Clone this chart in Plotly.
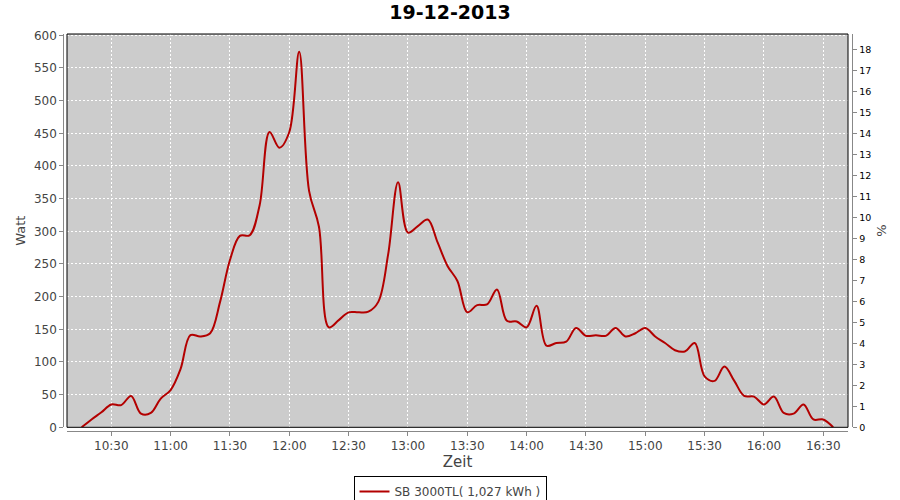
import plotly.graph_objects as go

DAY = "2013-12-19"
times = ["10:15", "10:20", "10:25", "10:30", "10:35", "10:40", "10:45", "10:50", "10:55",
         "11:00", "11:05", "11:10", "11:15", "11:20", "11:25", "11:30", "11:35", "11:40",
         "11:45", "11:50", "11:55", "12:00", "12:05", "12:10", "12:15", "12:20", "12:25",
         "12:30", "12:35", "12:40", "12:45", "12:50", "12:55", "13:00", "13:05", "13:10",
         "13:15", "13:20", "13:25", "13:30", "13:35", "13:40", "13:45", "13:50", "13:55",
         "14:00", "14:05", "14:10", "14:15", "14:20", "14:25", "14:30", "14:35", "14:40",
         "14:45", "14:50", "14:55", "15:00", "15:05", "15:10", "15:15", "15:20", "15:25",
         "15:30", "15:35", "15:40", "15:45", "15:50", "15:55", "16:00", "16:05", "16:10",
         "16:15", "16:20", "16:25", "16:30", "16:35"]
watt = [0, 12, 23, 35, 34, 48, 21, 22, 44,
        57, 89, 141, 139, 144, 192, 256, 293, 294,
        340, 452, 428, 452, 575, 362, 307, 153, 164,
        176, 176, 177, 192, 265, 375, 298, 308, 318,
        283, 247, 224, 176, 187, 188, 211, 163, 162,
        153, 186, 125, 129, 131, 152, 140, 141, 140,
        152, 139, 144, 152, 139, 129, 118, 116, 129,
        78, 71, 93, 71, 48, 47, 35, 47, 22,
        21, 35, 12, 12, 0]
series_name = "SB 3000TL( 1,027 kWh )"
title_text = "19-12-2013"

x = [f"{DAY} {t}:00" for t in times]

W, H = 900, 500
ML, MR, MT, MB = 40, 30, 34, 50
pw = W - ML - MR
ph = H - MT - MB


def fx(sx):  # pixel x -> paper fraction
    return (sx - ML) / pw


def fy(sy):  # pixel y -> paper fraction
    return (H - MB - sy) / ph


xdom = [fx(67), fx(848)]
ydom = [fy(427.3), fy(34)]

fig = go.Figure()
fig.add_trace(go.Scatter(
    x=x, y=watt, mode="lines", name=series_name,
    line=dict(color="#B30000", width=2, shape="spline", smoothing=1.0),
))
fig.add_trace(go.Scatter(x=[x[0]], y=[None], yaxis="y2", showlegend=False,
                         mode="lines", hoverinfo="skip"))

tickfont = dict(family="DejaVu Sans", size=12, color="#444444")
fig.update_layout(
    width=W, height=H,
    margin=dict(l=ML, r=MR, t=MT, b=MB, autoexpand=False),
    paper_bgcolor="white",
    plot_bgcolor="#CCCCCC",
    title=dict(text=f"<b>{title_text}</b>", x=0.5, xanchor="center", xref="container",
               y=1 - 12.5 / H, yanchor="middle", yref="container",
               font=dict(family="DejaVu Sans", size=19, color="black")),
    xaxis=dict(
        domain=xdom, type="date",
        range=[f"{DAY} 10:07:36", f"{DAY} 16:42:30"],
        tick0=f"{DAY} 10:30:00", dtick=1800000, tickformat="%H:%M",
        showgrid=True, gridcolor="white", gridwidth=1, griddash="2px,2px",
        showline=True, linecolor="#888888", linewidth=1,
        ticks="outside", ticklen=4, tickcolor="#888888",
        tickfont=tickfont, anchor="free",
        position=fy(431),
        title=dict(text="Zeit", font=dict(family="DejaVu Sans", size=15, color="#444444"),
                   standoff=3),
        zeroline=False, automargin=False,
    ),
    yaxis=dict(
        domain=ydom, range=[0, 602], dtick=50, tick0=0,
        showgrid=True, gridcolor="white", gridwidth=1, griddash="2px,2px",
        showline=True, linecolor="#888888", linewidth=1,
        ticks="outside", ticklen=4, tickcolor="#888888",
        tickfont=tickfont, anchor="free",
        position=fx(63.3),
        title=dict(text="Watt", font=dict(family="DejaVu Sans", size=13, color="#444444"),
                   standoff=4),
        zeroline=False, automargin=False,
    ),
    yaxis2=dict(
        overlaying="y", side="right", range=[0, 18.73], dtick=1, tick0=0,
        showgrid=False, zeroline=False,
        showline=True, linecolor="#888888", linewidth=1,
        ticks="outside", ticklen=4, tickcolor="#888888",
        tickfont=dict(family="DejaVu Sans", size=9.5, color="black"),
        anchor="free", position=fx(852.3),
        title=dict(text="%", font=dict(family="DejaVu Sans", size=13, color="#444444"),
                   standoff=6),
        automargin=False,
    ),
    legend=dict(
        orientation="h", x=fx(450), xanchor="center",
        y=fy(476), yanchor="top",
        bordercolor="black", borderwidth=1, bgcolor="white",
        font=dict(family="DejaVu Sans", size=12, color="#444444"),
        itemwidth=30, tracegroupgap=0,
    ),
    shapes=[dict(type="rect", xref="x domain", yref="y domain", x0=0, x1=1, y0=0, y1=1,
                 line=dict(color="black", width=1), fillcolor="rgba(0,0,0,0)", layer="above")],
    showlegend=True,
)

fig.write_html("out.html", config={"displayModeBar": False},
               post_script="document.body.style.margin='0px';")
